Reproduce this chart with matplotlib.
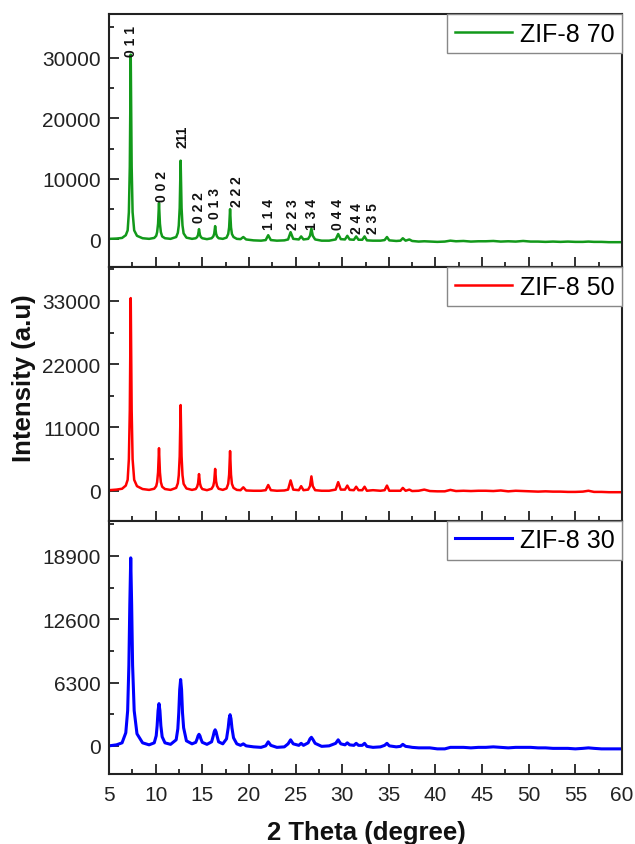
import matplotlib
matplotlib.use("Agg")
import matplotlib.pyplot as plt
from matplotlib.ticker import MultipleLocator

plt.rcParams['font.family'] = ['Liberation Sans', 'DejaVu Sans']

# -------------------------------
# DATA
# -------------------------------
# shared 2-theta points, denser around the peaks
two_theta = [5.0, 5.8, 6.4,
             6.8, 7.0, 7.13, 7.23, 7.33, 7.43, 7.53, 7.7, 8.0, 8.6,
             9.3,
             9.85, 10.06, 10.16, 10.26, 10.36, 10.46, 10.56, 10.7, 11.0,
             11.6,
             12.2, 12.38, 12.48, 12.58, 12.68, 12.78, 12.88, 13.0, 13.3,
             13.9,
             14.3, 14.45, 14.55, 14.65, 14.75, 14.85, 15.0,
             15.5,
             16.0, 16.18, 16.28, 16.38, 16.48, 16.58, 16.75,
             17.2,
             17.6, 17.78, 17.88, 17.98, 18.08, 18.18, 18.35, 18.7,
             19.1, 19.4, 19.7,
             20.5, 21.3,
             21.8, 22.07, 22.35,
             23.0, 23.8,
             24.2, 24.47, 24.75,
             25.35, 25.6, 25.85,
             26.35, 26.55, 26.7, 26.85, 27.1,
             27.8, 28.6,
             29.3, 29.57, 29.85,
             30.3, 30.55, 30.8,
             31.25, 31.5, 31.75,
             32.15, 32.4, 32.65,
             33.3, 34.1,
             34.55, 34.8, 35.05,
             35.8,
             36.25, 36.5, 36.8,
             37.2, 37.5,
             38.2, 38.8, 39.4, 40.2, 41.0, 41.6, 42.2, 43.0, 43.8, 44.6,
             45.4, 46.2, 47.0, 47.8, 48.6, 49.4, 50.2, 51.0, 51.8, 52.6,
             53.4, 54.2, 55.0, 55.8, 56.4, 57.0, 57.8, 58.6, 59.4, 60.0]

zif70 = [100, 150, 250,
         700, 1500, 4500, 12000, 30500, 12000, 4500, 1500, 600, 200,
         100,
         250, 600, 1200, 2600, 6000, 2600, 1200, 500, 200,
         100,
         400, 1100, 2300, 5200, 13000, 5200, 2300, 1000, 300,
         100,
         200, 400, 750, 1700, 750, 400, 200,
         50,
         200, 500, 950, 2200, 950, 500, 200,
         100,
         300, 900, 2000, 5000, 2000, 900, 400, 100,
         50, 400, 0,
         -150, -200,
         -100, 700, -100,
         -200, -150,
         0, 1200, 100,
         0, 500, 0,
         100, 600, 1800, 600, 0,
         -200, -200,
         0, 900, 50,
         0, 600, 0,
         -50, 500, -50,
         -50, 500, -150,
         -200, -200,
         -100, 400, -150,
         -250,
         -200, 200, -200,
         0, -250,
         -350, -300, -350, -400, -350, -200, -300, -250, -350, -300,
         -300, -250, -350, -300, -350, -250, -350, -350, -400, -350,
         -400, -350, -400, -400, -350, -400, -400, -450, -450, -450]

zif50 = [100, 200, 350,
         900, 1900, 5500, 14000, 33500, 14000, 5500, 1900, 800, 300,
         150,
         350, 800, 1500, 3200, 7400, 3200, 1500, 700, 300,
         150,
         500, 1300, 2700, 6000, 14900, 6000, 2700, 1200, 400,
         150,
         300, 700, 1300, 2900, 1300, 700, 300,
         100,
         350, 850, 1650, 3800, 1650, 850, 350,
         150,
         400, 1200, 2800, 6900, 2800, 1200, 500, 150,
         100, 600, 50,
         0, 0,
         100, 1000, 100,
         0, 50,
         200, 1800, 200,
         100, 800, 100,
         200, 800, 2500, 800, 100,
         0, 0,
         200, 1500, 200,
         200, 900, 150,
         100, 700, 100,
         100, 700, 0,
         100, 0,
         100, 900, 0,
         0,
         0, 500, 0,
         200, -50,
         0, 200, -50, -100, -100, 150, -50, 0, -50, 0,
         0, -50, 50, -100, 0, -50, -100, -150, -100, -150,
         -150, -200, -200, -150, 0, -200, -200, -250, -250, -250]

zif30 = [0, 100, 300,
         1300, 3500, 8000, 14000, 18700, 14000, 8000, 3500, 1200, 300,
         100,
         300, 1000, 2000, 3500, 4200, 3500, 2000, 900, 300,
         150,
         600, 1700, 3300, 5600, 6600, 5600, 3300, 1800, 500,
         200,
         350, 700, 1000, 1150, 1000, 700, 350,
         150,
         400, 1000, 1400, 1600, 1400, 1000, 400,
         200,
         700, 1800, 2700, 3100, 2700, 1800, 800, 200,
         50, 200, 0,
         -100, -150,
         0, 400, 50,
         -150, -100,
         200, 600, 200,
         50, 250, 50,
         300, 700, 850, 650, 250,
         -50, 0,
         250, 600, 200,
         100, 300, 100,
         50, 250, 50,
         50, 250, -50,
         -150, -100,
         50, 250, 0,
         -100,
         -50, 150, -50,
         -100, -150,
         -200, -200, -200, -300, -300, -150, -150, -150, -200, -150,
         -150, -100, -150, -200, -150, -150, -150, -200, -200, -250,
         -250, -250, -300, -250, -200, -250, -300, -300, -300, -300]

hkl_labels = ['0 1 1', '0 0 2', '211', '0 2 2', '0 1 3', '2 2 2',
              '1 1 4', '2 2 3', '1 3 4', '0 4 4', '2 4 4', '2 3 5']
hkl_x = [7.35, 10.7, 12.9, 14.65, 16.35, 18.7, 22.2, 24.75, 26.8, 29.5, 31.6, 33.3]
hkl_y = [30300, 6300, 15250, 2800, 3500, 5600, 1650, 1650, 1650, 1650, 1000, 1100]

names = ['ZIF-8 70', 'ZIF-8 50', 'ZIF-8 30']
colors = ['#12991a', '#ff0000', '#0000ff']
series = [zif70, zif50, zif30]
y_major = [10000, 11000, 6300]
y_limits = [(-4600, 37200), (-5200, 38850), (-2800, 22400)]

for s in series:
    assert len(s) == len(two_theta), len(s)

# -------------------------------
# FIGURE
# -------------------------------
fig = plt.figure(figsize=(6.35, 8.45), dpi=100)
left, right = 109 / 635, 622 / 635
bottom, top = 1 - 775 / 845, 1 - 15 / 845
h = (top - bottom) / 3

axes = []
for i in range(3):
    ax = fig.add_axes([left, top - (i + 1) * h, right - left, h])
    axes.append(ax)
    lw = 2.2 if i == 2 else 1.8
    ax.plot(two_theta, series[i], color=colors[i], lw=lw, label=names[i],
            solid_joinstyle='round')
    ax.set_xlim(5, 60)
    ax.set_ylim(*y_limits[i])
    ax.xaxis.set_major_locator(MultipleLocator(5))
    ax.xaxis.set_minor_locator(MultipleLocator(2.5))
    ax.yaxis.set_major_locator(MultipleLocator(y_major[i]))
    ax.yaxis.set_minor_locator(MultipleLocator(y_major[i] / 2))
    ax.tick_params(which='both', direction='in', top=False, right=False,
                   width=1.3, colors='#222222', labelsize=15)
    ax.tick_params(which='major', length=7)
    ax.tick_params(which='minor', length=3.5)
    ax.tick_params(axis='y', pad=6)
    ax.tick_params(axis='x', pad=8)
    for s in ax.spines.values():
        s.set_linewidth(1.5)
        s.set_color('#222222')
    if i < 2:
        ax.tick_params(axis='x', labelbottom=False)
    leg = ax.legend(loc='upper right', fontsize=18, frameon=True, fancybox=False,
                    borderaxespad=0, handlelength=2.3, handletextpad=0.3,
                    borderpad=0.3, framealpha=1)
    leg.get_frame().set_edgecolor('#888888')
    leg.get_frame().set_linewidth(1.0)

for lab, xx, yy in zip(hkl_labels, hkl_x, hkl_y):
    axes[0].text(xx, yy, lab, rotation=90, ha='center', va='bottom',
                 fontsize=10, fontweight='bold', color='#111111')

fig.text(24 / 635, 1 - 378 / 845, 'Intensity (a.u)', rotation=90, ha='center',
         va='center', fontsize=18.5, fontweight='bold', color='#111111')
fig.text(366 / 635, 1 - 833 / 845, '2 Theta (degree)', ha='center',
         va='center', fontsize=18.5, fontweight='bold', color='#111111')

fig.savefig('out.png', dpi=100)
